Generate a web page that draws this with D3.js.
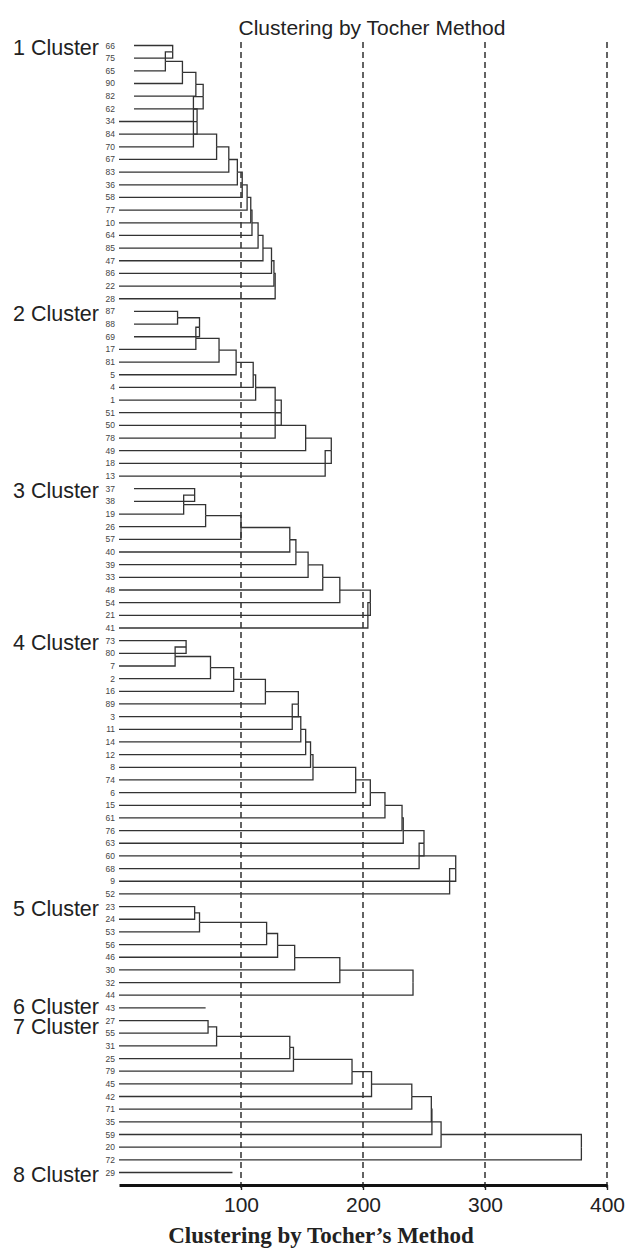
<!DOCTYPE html>
<html>
<head>
<meta charset="utf-8">
<title>Clustering by Tocher Method</title>
<script src="https://cdn.jsdelivr.net/npm/d3@7"></script>
<style>
  body { margin: 0; background: #fff; }
  svg { display: block; }
</style>
</head>
<body>
<script>

// data: each cluster is a chain, leaf i+1 joins the growing group at heights[i]
var clusterNames = ["1 Cluster", "2 Cluster", "3 Cluster", "4 Cluster",
                    "5 Cluster", "6 Cluster", "7 Cluster", "8 Cluster"];

var c1Leaves = ["66","75","65","90","82","62","34","84","70","67","83","36","58","77","10","64","85","47","86","22","28"];
var c1Heights = [44, 38, 52, 63, 69, 61, 64, 61, 80, 90, 97, 101, 105, 108, 109, 114, 118, 125, 127, 128];

var c2Leaves = ["87","88","69","17","81","5","4","1","51","50","78","49","18","13"];
var c2Heights = [48, 66, 63, 82, 96, 110, 112, 128, 133, 128, 153, 174, 169];

var c3Leaves = ["37","38","19","26","57","40","39","33","48","54","21","41"];
var c3Heights = [62, 53, 71, 100, 140, 145, 155, 167, 181, 206, 204];

var c4Leaves = ["73","80","7","2","16","89","3","11","14","12","8","74","6","15","61","76","63","60","68","9","52"];
var c4Heights = [55, 46, 75, 94, 120, 147, 142, 149, 153, 157, 159, 194, 206, 218, 232, 233, 250, 246, 276, 271];

var c5Leaves = ["23","24","53","56","46","30","32","44"];
var c5Heights = [62, 66, 121, 130, 144, 181, 241];

var c6Leaves = ["43"];
var c6Heights = [71];

var c7Leaves = ["27","55","31","25","79","45","42","71","35","59","20","72"];
var c7Heights = [73, 80, 140, 143, 191, 207, 240, 256, 256.5, 264, 379];

var c8Leaves = ["29"];
var c8Heights = [93];

// leaves whose line starts a little right of zero
var indentedLeaves = ["66","75","65","90","82","62","87","88","69","37","38"];
var INDENT = 12.3;

var tickValues = [100, 200, 300, 400];
var TITLE = "Clustering by Tocher Method";
var X_TITLE = "Clustering by Tocher\u2019s Method";

var leafSets = [c1Leaves, c2Leaves, c3Leaves, c4Leaves, c5Leaves, c6Leaves, c7Leaves, c8Leaves];
var heightSets = [c1Heights, c2Heights, c3Heights, c4Heights, c5Heights, c6Heights, c7Heights, c8Heights];


// view
var W = 629, H = 1250;
var LINE = "#333";

var svg = d3.select("body").append("svg")
  .attr("width", W)
  .attr("height", H);

var x = d3.scaleLinear().domain([0, 400]).range([119, 607]);
var allLeaves = [].concat.apply([], leafSets);
var y = d3.scalePoint().domain(allLeaves).range([45.5, 1172.5]);

function leafStart(name) {
  return indentedLeaves.indexOf(name) >= 0 ? INDENT : 0;
}

// build a nested chain for one cluster
function buildChain(leaves, heights) {
  var node = { name: leaves[0] };
  for (var i = 1; i < leaves.length; i++) {
    node = { h: heights[i - 1], children: [node, { name: leaves[i] }] };
  }
  return node;
}

// dashed reference lines
svg.append("g").selectAll("line")
  .data(tickValues)
  .enter().append("line")
  .attr("x1", function(d) { return x(d); })
  .attr("x2", function(d) { return x(d); })
  .attr("y1", 42)
  .attr("y2", 1190)
  .attr("stroke", "#222")
  .attr("stroke-width", 1.4)
  .attr("stroke-dasharray", "6,4");

var tree = svg.append("g")
  .attr("fill", "none")
  .attr("stroke", LINE)
  .attr("stroke-width", 1.3);

var labelPos = [];

leafSets.forEach(function(leaves, ci) {
  var heights = heightSets[ci];

  if (leaves.length == 1) {
    var nm = leaves[0];
    tree.append("line")
      .attr("x1", x(leafStart(nm)))
      .attr("x2", x(heights[0]))
      .attr("y1", y(nm))
      .attr("y2", y(nm));
  } else {
    var root = d3.hierarchy(buildChain(leaves, heights));
    root.eachAfter(function(d) {
      if (d.children) {
        d.py = d3.mean(d.children, function(c) { return c.py; });
        d.px = x(d.data.h);
      } else {
        d.py = y(d.data.name);
        d.px = x(leafStart(d.data.name));
      }
    });
    tree.selectAll(null)
      .data(root.descendants().filter(function(d) { return d.parent; }))
      .enter().append("path")
      .attr("d", function(d) {
        return "M" + d.px + "," + d.py + "H" + d.parent.px + "V" + d.parent.py;
      });
  }

  labelPos.push(y(leaves[0]) + 9.5);
});

// leaf labels
svg.append("g").selectAll("text")
  .data(allLeaves)
  .enter().append("text")
  .attr("x", 115)
  .attr("y", function(d) { return y(d) + 3; })
  .attr("text-anchor", "end")
  .attr("font-family", "Liberation Sans, Arial, sans-serif")
  .attr("font-size", "8.5px")
  .attr("fill", "#444")
  .text(function(d) { return d; });

// push apart cluster names that are too close
var MIN_GAP = 20;
for (var i = 1; i < labelPos.length; i++) {
  var gap = labelPos[i] - labelPos[i - 1];
  if (gap < MIN_GAP) {
    var half = (MIN_GAP - gap) / 2;
    labelPos[i - 1] -= half;
    labelPos[i] += half;
  }
}

svg.append("g").selectAll("text")
  .data(clusterNames)
  .enter().append("text")
  .attr("x", 99)
  .attr("y", function(d, i) { return labelPos[i]; })
  .attr("text-anchor", "end")
  .attr("font-family", "Liberation Sans, Arial, sans-serif")
  .attr("font-size", "21.5px")
  .attr("fill", "#222")
  .text(function(d) { return d; });

// axis
var axis = svg.append("g")
  .attr("transform", "translate(0,1185)")
  .call(d3.axisBottom(x).tickValues(tickValues).tickSize(5).tickSizeOuter(0));
axis.select(".domain").attr("stroke", "#111").attr("stroke-width", 3);
axis.selectAll(".tick line").attr("stroke", "#222").attr("stroke-width", 1.4);
axis.selectAll(".tick text")
  .attr("y", 12)
  .attr("dy", "0.71em")
  .attr("font-family", "Liberation Sans, Arial, sans-serif")
  .attr("font-size", "21px")
  .attr("fill", "#222");

// titles
svg.append("text")
  .attr("x", 372)
  .attr("y", 34.5)
  .attr("text-anchor", "middle")
  .attr("font-family", "Liberation Sans, Arial, sans-serif")
  .attr("font-size", "21px")
  .attr("fill", "#222")
  .text(TITLE);

svg.append("text")
  .attr("x", 321)
  .attr("y", 1243)
  .attr("text-anchor", "middle")
  .attr("font-family", "Liberation Serif, Times New Roman, serif")
  .attr("font-weight", "bold")
  .attr("font-size", "23px")
  .attr("fill", "#222")
  .text(X_TITLE);

</script>
</body>
</html>
